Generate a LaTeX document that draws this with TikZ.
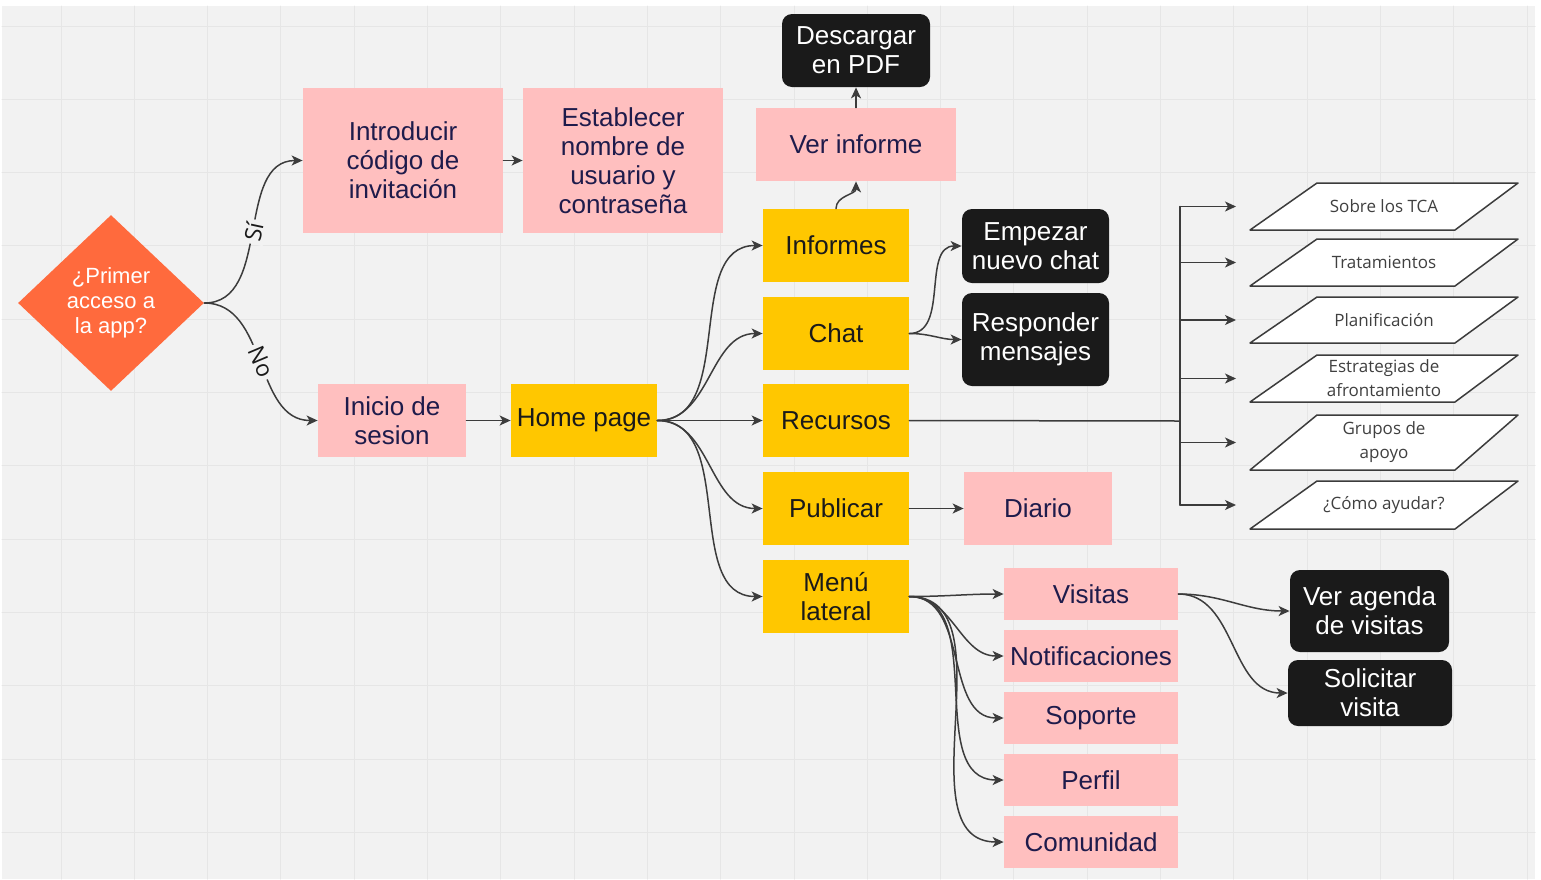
\documentclass[tikz,border=0pt]{standalone}
\usepackage{fontspec}
\setmainfont{Liberation Sans}
\newfontfamily\parafont{Open Sans}
\usepackage{xcolor}
\definecolor{bgc}{HTML}{F2F2F2}
\definecolor{gridln}{HTML}{E6E6E6}
\definecolor{blush}{HTML}{FFBFBF}
\definecolor{amber}{HTML}{FFC700}
\definecolor{coral}{HTML}{FF6A3D}
\definecolor{ink}{HTML}{1A1A1A}
\definecolor{navy}{HTML}{1E1B4B}
\definecolor{wirec}{HTML}{3C3C3C}
\definecolor{paratxt}{HTML}{404040}
\usetikzlibrary{arrows.meta,shapes.geometric}

\begin{document}
\begin{tikzpicture}[x=0.5pt,y=-0.5pt,line cap=round,line join=round,
  box/.style={inner sep=1pt,align=center,font=\fontsize{13}{14.5}\selectfont},
  pinkbox/.style={box,fill=blush,text=navy},
  goldbox/.style={box,fill=amber,text=ink,minimum width=73pt,minimum height=36.5pt},
  darkbox/.style={box,fill=ink,text=white,rounded corners=5pt},
  paratext/.style={inner sep=0pt,align=center,text=paratxt,font=\parafont\fontsize{8.5}{12}\selectfont},
  wire/.style={draw=wirec,line width=0.75pt},
  arr/.style={wire,-{Stealth[length=5.5pt,width=5pt,inset=1.5pt]}},
  tag/.style={fill=bgc,font=\parafont\fontsize{11.5}{11.5}\selectfont,text=ink,inner sep=1.5pt,sloped}]
  % canvas and grid
  \useasboundingbox (0,0) rectangle (1541,879);
  \fill[white] (0,0) rectangle (1541,879);
  \fill[bgc] (2,6) rectangle (1535,879);
  \foreach \gx in {0,...,20}{\draw[gridln,line width=0.5pt] ({61+73.3*\gx},6) -- ({61+73.3*\gx},879);}
  \foreach \gy in {0,...,11}{\draw[gridln,line width=0.5pt] (2,{26+73.3*\gy}) -- (1535,{26+73.3*\gy});}

  % decision
  \node[diamond,fill=coral,text=white,minimum width=93pt,minimum height=88pt,inner sep=0pt,align=center,font=\fontsize{11}{12.5}\selectfont] (acceso) at (111,303) {¿Primer\\acceso a\\la app?};

  % first access / login
  \node[pinkbox,minimum width=100pt,minimum height=72.5pt] (intro) at (403,160.5) {Introducir\\código de\\invitación};
  \node[pinkbox,minimum width=100pt,minimum height=72.5pt] (estab) at (623,160.5) {Establecer\\nombre de\\usuario y\\contraseña};
  \node[pinkbox,minimum width=74pt,minimum height=36.5pt] (inicio) at (392,420.5) {Inicio de\\sesion};
  \node[goldbox] (home) at (584,420.5) {Home page};

  % home page sections
  \node[goldbox] (informes) at (836,245.5) {Informes};
  \node[goldbox] (chat) at (836,333.5) {Chat};
  \node[goldbox] (recursos) at (836,420.5) {Recursos};
  \node[goldbox] (publicar) at (836,508.5) {Publicar};
  \node[goldbox] (menu) at (836,596.5) {Menú\\lateral};

  % reports
  \node[pinkbox,minimum width=100pt,minimum height=36.5pt] (verinf) at (856,144.5) {Ver informe};
  \node[darkbox,minimum width=74pt,minimum height=36.5pt] (pdf) at (856,50.5) {Descargar\\en PDF};

  % chat
  \node[darkbox,minimum width=73.5pt,minimum height=37pt] (empezar) at (1035.5,246) {Empezar\\nuevo chat};
  \node[darkbox,minimum width=73.5pt,minimum height=46.5pt] (responder) at (1035.5,339.5) {Responder\\mensajes};

  % publish
  \node[pinkbox,minimum width=74pt,minimum height=36.5pt] (diario) at (1038,508.5) {Diario};

  % side menu
  \node[pinkbox,minimum width=87pt,minimum height=26pt] (visitas) at (1091,594) {Visitas};
  \node[pinkbox,minimum width=87pt,minimum height=26pt] (notif) at (1091,656) {Notificaciones};
  \node[pinkbox,minimum width=87pt,minimum height=26pt] (soporte) at (1091,718) {Soporte};
  \node[pinkbox,minimum width=87pt,minimum height=26pt] (perfil) at (1091,780) {Perfil};
  \node[pinkbox,minimum width=87pt,minimum height=26pt] (comunidad) at (1091,842) {Comunidad};
  \node[darkbox,minimum width=79.5pt,minimum height=41pt] (agenda) at (1369.5,611) {Ver agenda\\de visitas};
  \node[darkbox,minimum width=82pt,minimum height=33pt] (solicitar) at (1370,693) {Solicitar\\visita};

  % resources
  \foreach \pn/\yt/\yb/\txt in {sobre/183/230/Sobre los TCA,trat/239/286/Tratamientos,plan/297/343/Planificación,estr/355/402/{Estrategias de\\afrontamiento},grup/415/470/{Grupos de\\apoyo},ayud/481/529/¿Cómo ayudar?}{
    \draw[wirec,fill=white,line width=0.75pt] (1250,\yb) -- (1455,\yb) -- (1518,\yt) -- (1317,\yt) -- cycle;
    \node[paratext] (\pn) at (1384,{(\yt+\yb)/2}) {\txt};
  }
  \coordinate (bus) at (1180,421);
  \coordinate (tips) at (1236,0);
  \draw[wire] (recursos.east) -- (bus);
  \draw[wire] (sobre -| bus) -- (ayud -| bus);
  \foreach \pn in {sobre,trat,plan,estr,grup,ayud}{\draw[arr] (\pn -| bus) -- (\pn -| tips);}

  % connectors
  \draw[arr] (acceso.east) to[out=0,in=180] node[tag] {Sí} (intro.west);
  \draw[arr] (acceso.east) to[out=0,in=180] node[tag] {No} (inicio.west);
  \draw[arr] (intro) -- (estab);
  \draw[arr] (inicio) -- (home);
  \foreach \t in {informes,chat,recursos,publicar,menu}{\draw[arr] (home.east) to[out=0,in=180] (\t.west);}
  \draw[arr] (informes.north) to[out=90,in=-90] (verinf.south);
  \draw[arr] (verinf) -- (pdf);
  \draw[arr] (chat.east) to[out=0,in=180] (empezar.west);
  \draw[arr] (chat.east) to[out=0,in=180] (responder.west);
  \draw[arr] (publicar) -- (diario);
  \foreach \t in {visitas,notif,soporte,perfil,comunidad}{\draw[arr] (menu.east) to[out=0,in=180] (\t.west);}
  \draw[arr] (visitas.east) to[out=0,in=180] (agenda.west);
  \draw[arr] (visitas.east) to[out=0,in=180] (solicitar.west);
\end{tikzpicture}
\end{document}
